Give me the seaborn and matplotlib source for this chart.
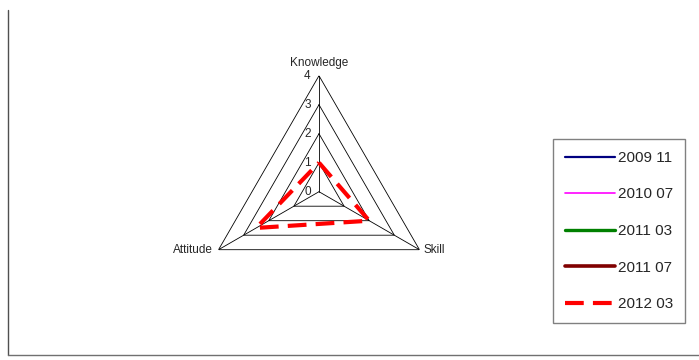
import numpy as np
import pandas as pd
import matplotlib
matplotlib.use("Agg")
import matplotlib.pyplot as plt
from matplotlib.lines import Line2D
import seaborn as sns

categories = ["Knowledge", "Skill", "Attitude"]
levels = [0, 1, 2, 3, 4]
series_names = ["2009 11", "2010 07", "2011 03", "2011 07", "2012 03"]
values_2009_11 = [0, 0, 0]
values_2010_07 = [0, 0, 0]
values_2011_03 = [0, 0, 0]
values_2011_07 = [0, 0, 0]
values_2012_03 = [1, 2, 2.5]

colors = ["#000080", "#ff00ff", "#008000", "#800000", "#ff0000"]
widths = [1.6, 1.2, 2.4, 2.6, 3.0]
styles = ["-", "-", "-", "-", (0, (4.5, 2.2))]


def closed(vals):
    theta = np.linspace(0, 2 * np.pi, len(categories), endpoint=False)
    return pd.DataFrame({"theta": np.append(theta, 2 * np.pi),
                         "value": list(vals) + [vals[0]]})


def main():
    sns.set_style("white")
    plt.rcParams["font.family"] = ["Liberation Sans", "DejaVu Sans"]

    fig = plt.figure(figsize=(6.99, 3.60), dpi=100)
    ax = fig.add_axes([0.2904, 0.1453, 0.3319, 0.6444], projection="polar")
    ax.set_theta_offset(np.pi / 2)
    ax.set_theta_direction(-1)
    ax.set_ylim(0, max(levels))
    ax.grid(False)
    ax.spines["polar"].set_visible(False)
    ax.set_xticks([])
    ax.set_yticks([])
    ax.patch.set_alpha(0)

    angles = np.linspace(0, 2 * np.pi, len(categories), endpoint=False)

    # triangular grid + spokes
    for lv in levels[1:]:
        g = closed([lv] * len(categories))
        ax.plot(g["theta"], g["value"], color="black", lw=0.6, zorder=1)
    for a in angles:
        ax.plot([a, a], [0, max(levels)], color="black", lw=0.6, zorder=1)

    for lv in levels:
        ax.annotate(str(lv), xy=(0, lv), xytext=(-6, 0), textcoords="offset points",
                    ha="right", va="center", fontsize=8.5)

    offsets = [((0, 9), "center", "center"),
               ((3, 0), "left", "center"),
               ((-4, 0), "right", "center")]
    for cat, a, (off, ha, va) in zip(categories, angles, offsets):
        ax.annotate(cat, xy=(a, max(levels)), xytext=off, textcoords="offset points",
                    ha=ha, va=va, fontsize=8.5)

    all_vals = [values_2009_11, values_2010_07, values_2011_03, values_2011_07, values_2012_03]
    for name, vals, c, w, ls in zip(series_names, all_vals, colors, widths, styles):
        df = closed(vals)
        sns.lineplot(data=df, x="theta", y="value", sort=False, estimator=None,
                     color=c, lw=w, linestyle=ls, label=name, ax=ax,
                     solid_capstyle="round", zorder=3)

    handles, labels = ax.get_legend_handles_labels()
    ax.get_legend().remove()
    leg = fig.legend(handles, labels, loc="upper left", bbox_to_anchor=(0.791, 0.614),
                     borderaxespad=0, frameon=True, fancybox=False, fontsize=11,
                     handlelength=3.3, handletextpad=0.15, labelspacing=1.48,
                     borderpad=0.78)
    leg.get_frame().set_edgecolor("#606060")
    leg.get_frame().set_linewidth(1.0)

    # outer frame: only left and bottom edges visible
    x0, y0, y1 = 8 / 699, 5 / 360, 350 / 360
    fig.add_artist(Line2D([x0, x0], [y0, y1], transform=fig.transFigure,
                          color="#505050", lw=1.0))
    fig.add_artist(Line2D([x0, 1.0], [y0, y0], transform=fig.transFigure,
                          color="#707070", lw=1.0))

    fig.savefig("out.png", dpi=100)


if __name__ == "__main__":
    main()
